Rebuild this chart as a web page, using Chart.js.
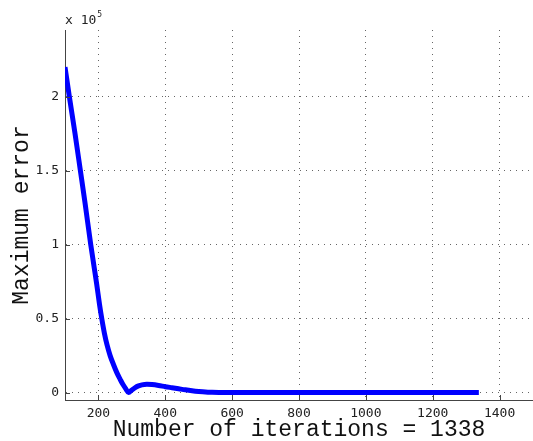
<!DOCTYPE html>
<html>
<head>
<meta charset="utf-8">
<script src="https://cdn.jsdelivr.net/npm/chart.js@4/dist/chart.umd.min.js"></script>
<style>
    html, body { margin: 0; padding: 0; background: #fff; }
    #wrap { width: 533px; height: 441px; }
</style>
</head>
<body>
<div id="wrap"><canvas id="errorChart"></canvas></div>
<script>
// ===================================
// DATA
// ===================================
const iterations = [100, 113, 130, 146, 160, 177, 187, 195, 203, 210, 218, 226, 235, 245, 255, 265, 273, 282, 290,
    300, 310, 320, 330, 345, 360, 380, 400, 420, 440, 460, 480, 500, 520, 540, 560, 600,
    700, 800, 1000, 1200, 1338];
const maxError = [220000, 200000, 175000, 150000, 128000, 100000, 85000, 73000, 60000, 50000, 40000, 32000, 25000, 19000, 13500, 9000, 5600, 2500, 0,
    1800, 3400, 4500, 5200, 5600, 5400, 4800, 4000, 3300, 2600, 1900, 1300, 800, 400, 200, 80, 20,
    0, 0, 0, 0, 0];
const xTicks = [200, 400, 600, 800, 1000, 1200, 1400];
const yTicks = [0, 50000, 100000, 150000, 200000];
const xRange = [100, 1500];
const yRange = [-5000, 245000];
const totalIterations = 1338;

const MONO = "'DejaVu Sans Mono', monospace";
const TITLE_FONT = "'Liberation Mono', 'DejaVu Sans Mono', monospace";

// inward tick marks + "x 10^5" multiplier, MATLAB style
const matlabAxes = {
    id: 'matlabAxes',
    afterDraw(chart) {
        const { ctx, chartArea, scales } = chart;
        ctx.save();
        ctx.strokeStyle = '#444';
        ctx.lineWidth = 1;
        ctx.beginPath();
        xTicks.forEach(v => {
            const px = Math.round(scales.x.getPixelForValue(v)) + 0.5;
            ctx.moveTo(px, chartArea.bottom);
            ctx.lineTo(px, chartArea.bottom - 5);
        });
        yTicks.forEach(v => {
            const py = Math.round(scales.y.getPixelForValue(v)) + 0.5;
            ctx.moveTo(chartArea.left, py);
            ctx.lineTo(chartArea.left + 5, py);
        });
        ctx.stroke();

        ctx.fillStyle = '#222';
        ctx.textBaseline = 'alphabetic';
        ctx.font = '13px ' + MONO;
        ctx.fillText('x 10', chartArea.left, 24);
        const w = ctx.measureText('x 10').width;
        ctx.font = '8px ' + MONO;
        ctx.fillText('5', chartArea.left + w + 1, 17);
        ctx.restore();
    }
};

const ctx = document.getElementById('errorChart').getContext('2d');
new Chart(ctx, {
    type: 'line',
    data: {
        datasets: [{
            data: iterations.map((x, i) => ({ x: x, y: maxError[i] })),
            borderColor: '#0000ff',
            borderWidth: 5,
            pointRadius: 0,
            cubicInterpolationMode: 'monotone',
            fill: false
        }]
    },
    options: {
        responsive: true,
        maintainAspectRatio: false,
        animation: false,
        devicePixelRatio: 1,
        layout: { padding: { top: 30, right: 0, left: 0, bottom: 0 } },
        plugins: {
            legend: { display: false },
            tooltip: { enabled: false }
        },
        scales: {
            x: {
                type: 'linear',
                min: xRange[0],
                max: xRange[1],
                afterBuildTicks: s => { s.ticks = xTicks.map(v => ({ value: v })); },
                afterFit: s => { s.height = 41; },
                ticks: {
                    font: { family: MONO, size: 13 },
                    color: '#222',
                    padding: 6,
                    maxRotation: 0,
                    autoSkip: false,
                    callback: v => String(v)
                },
                grid: { color: '#666', lineWidth: 1, drawTicks: false },
                border: { display: true, color: '#444', width: 1, dash: [1, 5] },
                title: {
                    display: true,
                    text: 'Number of iterations = ' + totalIterations,
                    font: { family: TITLE_FONT, size: 23, lineHeight: 1 },
                    color: '#111',
                    padding: { top: 0, bottom: 0 }
                }
            },
            y: {
                type: 'linear',
                min: yRange[0],
                max: yRange[1],
                afterBuildTicks: s => { s.ticks = yTicks.map(v => ({ value: v })); },
                afterFit: s => { s.width = 65; },
                ticks: {
                    font: { family: MONO, size: 13 },
                    color: '#222',
                    padding: 6,
                    callback: v => String(v / 100000)
                },
                grid: { color: '#666', lineWidth: 1, drawTicks: false },
                border: { display: true, color: '#444', width: 1, dash: [1, 5] },
                title: {
                    display: true,
                    text: 'Maximum error',
                    font: { family: TITLE_FONT, size: 23, lineHeight: 1 },
                    color: '#111',
                    padding: { top: 10, bottom: 0 }
                }
            }
        }
    },
    plugins: [matlabAxes]
});
</script>
</body>
</html>
